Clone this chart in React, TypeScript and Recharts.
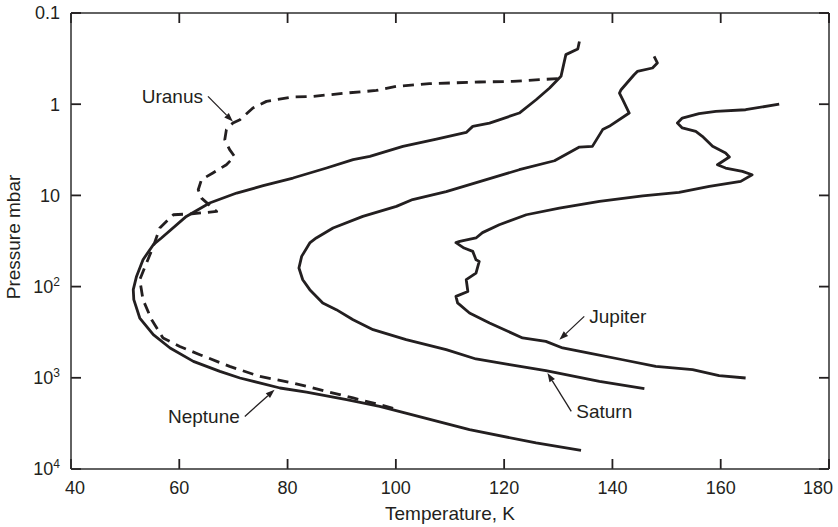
import { LineChart, Line, XAxis, YAxis, ReferenceLine, Label } from "recharts";

const FONT = '"Liberation Sans", Arial, Helvetica, sans-serif';
const INK = "#231f20";
const AXIS = "#2e2e2e";

const WIDTH = 838;
const HEIGHT = 527;
const MARGIN = { top: 13, right: 9, bottom: 0, left: 0 };
const Y_AXIS_W = 71;
const X_AXIS_H = 58;
const TICK_LEN = 10;

const tempTicks = [40, 60, 80, 100, 120, 140, 160, 180];
const pressureTicks = [0.1, 1, 10, 100, 1000, 10000];

// temperature (K) / pressure (mbar) read along each profile, top to bottom
const neptuneT = [133.9, 133.6, 131.4, 130.5, 128.4, 125.9, 122.8, 117.3, 114.2, 113.0, 107.5, 101.3, 95.2, 92.1, 87.2, 81.0, 75.5, 70.6, 65.6, 61.3, 56.7, 55.2, 53.3, 52.1, 51.5, 51.6, 52.7, 55.2, 58.3, 62.6, 67.5, 71.2, 78.6, 83.5, 90.9, 97.0, 101.3, 113.6, 125.9, 134.2];
const neptuneP = [0.205, 0.248, 0.286, 0.495, 0.664, 0.894, 1.25, 1.61, 1.75, 2.04, 2.41, 2.9, 3.73, 4.06, 5.01, 6.45, 7.83, 9.42, 12.1, 17.0, 29.3, 34.7, 50.7, 77.3, 108, 139, 221, 337, 471, 661, 851, 1005, 1294, 1432, 1739, 2059, 2393, 3700, 5184, 6250];

const uranusT = [129.9, 126.5, 121.6, 115.4, 106.2, 100.1, 96.4, 90.9, 84.7, 81.0, 76.1, 73.6, 71.2, 69.9, 68.7, 68.4, 69.3, 70.2, 68.7, 66.2, 64.1, 63.5, 64.1, 66.9, 62.3, 58.9, 56.4, 55.2, 52.7, 53.3, 54.9, 57.0, 60.1, 63.8, 69.3, 74.9, 81.0, 87.2, 92.1, 97.0, 100.7];
const uranusP = [0.525, 0.538, 0.562, 0.571, 0.596, 0.638, 0.707, 0.754, 0.821, 0.834, 0.931, 1.1, 1.48, 1.61, 1.9, 2.45, 3.15, 3.74, 4.61, 5.68, 6.72, 8.66, 10.7, 15.0, 15.9, 16.3, 22.8, 36.2, 84.0, 139, 231, 366, 453, 558, 750, 966, 1141, 1409, 1664, 1971, 2264];

const saturnT = [147.7, 148.3, 147.4, 144.6, 144.0, 141.6, 141.3, 141.9, 143.1, 139.4, 138.2, 136.3, 133.9, 129.3, 122.8, 116.7, 109.3, 103.1, 100.1, 93.9, 88.4, 85.3, 84.1, 82.6, 82.1, 82.8, 84.1, 86.5, 89.0, 92.1, 95.8, 101.9, 109.3, 114.8, 121.0, 127.7, 137.6, 145.9];
const saturnP = [0.299, 0.353, 0.401, 0.437, 0.475, 0.694, 0.754, 0.893, 1.25, 1.75, 1.9, 2.9, 2.95, 4.17, 5.23, 6.73, 9.1, 11.1, 13.2, 17.0, 22.8, 29.3, 33.2, 46.6, 62.5, 84.0, 108, 151, 179, 231, 297, 382, 492, 622, 718, 836, 1094, 1318];

const jupiterT = [170.8, 164.6, 159.1, 156.0, 152.9, 152.0, 152.9, 155.4, 156.6, 158.5, 160.9, 161.6, 159.4, 160.9, 164.0, 165.8, 163.7, 157.9, 152.3, 145.6, 137.6, 130.2, 124.1, 119.1, 116.0, 114.8, 111.8, 111.1, 112.6, 114.2, 114.8, 115.4, 114.8, 113.0, 113.3, 111.1, 111.4, 113.6, 117.3, 123.4, 127.7, 130.8, 135.7, 141.9, 148.0, 154.8, 159.7, 164.6];
const jupiterP = [0.996, 1.15, 1.2, 1.27, 1.42, 1.61, 1.82, 1.99, 2.25, 2.9, 3.43, 3.79, 4.61, 5.01, 5.46, 5.93, 7.02, 7.96, 9.27, 10.1, 11.6, 13.8, 16.3, 21.0, 25.6, 29.3, 31.9, 33.0, 37.8, 41.1, 50.7, 52.9, 71.0, 84.0, 113, 128, 151, 195, 251, 366, 399, 471, 535, 634, 750, 815, 948, 1005];

// label arrows: tail (near text) -> head (on the curve), in T / P
const annotations = [
  { name: "Uranus", tail: [65.3, 0.82], head: [69.9, 1.55], side: "end" },
  { name: "Neptune", tail: [72.1, 2650], head: [77.6, 1349], side: "end" },
  { name: "Jupiter", tail: [134.8, 212], head: [130.2, 383], side: "start" },
  { name: "Saturn", tail: [132.4, 2335], head: [128.0, 885], side: "start" },
];

const zip = (t: number[], p: number[]) => t.map((v, i) => ({ t: v, p: p[i] }));

// tick length expressed in data units of each axis
const T_MIN = tempTicks[0];
const T_MAX = tempTicks[tempTicks.length - 1];
const P_MIN = pressureTicks[0];
const P_MAX = pressureTicks[pressureTicks.length - 1];
const plotW = WIDTH - MARGIN.left - MARGIN.right - Y_AXIS_W;
const plotH = HEIGHT - MARGIN.top - MARGIN.bottom - X_AXIS_H;
const tickDT = (TICK_LEN * (T_MAX - T_MIN)) / plotW;
const tickFactor = Math.pow(10, (TICK_LEN * Math.log10(P_MAX / P_MIN)) / plotH);

const tickSegments = [
  ...tempTicks.map((t) => [
    { x: t, y: P_MAX },
    { x: t, y: P_MAX / tickFactor },
  ]),
  ...tempTicks.map((t) => [
    { x: t, y: P_MIN },
    { x: t, y: P_MIN * tickFactor },
  ]),
  ...pressureTicks.map((p) => [
    { x: T_MIN, y: p },
    { x: T_MIN + tickDT, y: p },
  ]),
  ...pressureTicks.map((p) => [
    { x: T_MAX, y: p },
    { x: T_MAX - tickDT, y: p },
  ]),
];

function TempTick({ x, y, payload, index }: any) {
  const last = index === tempTicks.length - 1;
  const first = index === 0;
  return (
    <text
      x={first ? x - 6 : last ? x + 4 : x}
      y={y}
      dy="0.71em"
      textAnchor={first ? "start" : last ? "end" : "middle"}
      fontSize={18}
      fill={INK}
      fontFamily={FONT}
    >
      {payload.value}
    </text>
  );
}

function PressureTick({ x, y, payload }: any) {
  const v = payload.value;
  const exp = Math.round(Math.log10(v));
  return (
    <text x={x} y={y} dy="0.36em" textAnchor="end" fontSize={18} fill={INK} fontFamily={FONT}>
      {v >= 100 ? (
        <>
          <tspan>10</tspan>
          <tspan dy={-7} fontSize={12}>
            {exp}
          </tspan>
        </>
      ) : (
        String(v)
      )}
    </text>
  );
}

const arrowShape = (name: string, side: string) => (props: any) => {
  const { x1, y1, x2, y2 } = props;
  const ang = Math.atan2(y2 - y1, x2 - x1);
  const len = 9;
  const half = 3.2;
  const bx = x2 - len * Math.cos(ang);
  const by = y2 - len * Math.sin(ang);
  const px = -Math.sin(ang) * half;
  const py = Math.cos(ang) * half;
  return (
    <g>
      <line x1={x1} y1={y1} x2={bx} y2={by} stroke={INK} strokeWidth={1.3} />
      <polygon points={`${x2},${y2} ${bx + px},${by + py} ${bx - px},${by - py}`} fill={INK} />
      <text
        x={side === "end" ? x1 - 5 : x1 + 5}
        y={y1}
        dy="0.36em"
        textAnchor={side}
        fontSize={19}
        fill={INK}
        fontFamily={FONT}
      >
        {name}
      </text>
    </g>
  );
};

const lineProps = {
  dataKey: "p",
  type: "linear" as const,
  stroke: INK,
  strokeWidth: 2.8,
  strokeLinejoin: "round" as const,
  dot: false,
  activeDot: false,
  isAnimationActive: false,
};

export default function App() {
  return (
    <div style={{ position: "absolute", left: 0, top: 0, background: "#fff" }}>
      <LineChart width={WIDTH} height={HEIGHT} margin={MARGIN}>
        <XAxis
          dataKey="t"
          type="number"
          domain={[T_MIN, T_MAX]}
          ticks={tempTicks}
          interval={0}
          allowDataOverflow
          height={X_AXIS_H}
          tickSize={0}
          tickMargin={12}
          tickLine={false}
          stroke={AXIS}
          strokeWidth={1.5}
          tick={<TempTick />}
        >
          <Label
            content={({ viewBox }: any) => (
              <text
                x={viewBox.x + viewBox.width / 2}
                y={viewBox.y + viewBox.height - 7}
                textAnchor="middle"
                fontSize={19}
                fill={INK}
                fontFamily={FONT}
              >
                Temperature, K
              </text>
            )}
          />
        </XAxis>
        <YAxis
          type="number"
          scale="log"
          domain={[P_MIN, P_MAX]}
          ticks={pressureTicks}
          interval={0}
          reversed
          allowDataOverflow
          width={Y_AXIS_W}
          tickSize={0}
          tickMargin={11}
          tickLine={false}
          stroke={AXIS}
          strokeWidth={1.5}
          tick={<PressureTick />}
        >
          <Label
            content={({ viewBox }: any) => {
              const cx = viewBox.x + 13;
              const cy = viewBox.y + viewBox.height / 2 - 4;
              return (
                <text
                  x={cx}
                  y={cy}
                  dy="0.36em"
                  textAnchor="middle"
                  transform={`rotate(-90, ${cx}, ${cy})`}
                  fontSize={19}
                  fill={INK}
                  fontFamily={FONT}
                >
                  Pressure mbar
                </text>
              );
            }}
          />
        </YAxis>

        {/* top and right edges of the frame */}
        <ReferenceLine y={P_MIN} ifOverflow="visible" stroke={AXIS} strokeWidth={1.5} />
        <ReferenceLine x={T_MAX} ifOverflow="visible" stroke={AXIS} strokeWidth={1.5} />

        {/* inward tick marks on all four sides */}
        {tickSegments.map((seg, i) => (
          <ReferenceLine key={`tk${i}`} segment={seg} ifOverflow="visible" stroke={INK} strokeWidth={1.8} />
        ))}

        <Line {...lineProps} data={zip(uranusT, uranusP)} strokeDasharray="11 7" name="Uranus" />
        <Line {...lineProps} data={zip(neptuneT, neptuneP)} name="Neptune" />
        <Line {...lineProps} data={zip(saturnT, saturnP)} name="Saturn" />
        <Line {...lineProps} data={zip(jupiterT, jupiterP)} name="Jupiter" />

        {annotations.map((a) => (
          <ReferenceLine
            key={a.name}
            segment={[
              { x: a.tail[0], y: a.tail[1] },
              { x: a.head[0], y: a.head[1] },
            ]}
            ifOverflow="visible"
            shape={arrowShape(a.name, a.side)}
          />
        ))}
      </LineChart>
    </div>
  );
}
